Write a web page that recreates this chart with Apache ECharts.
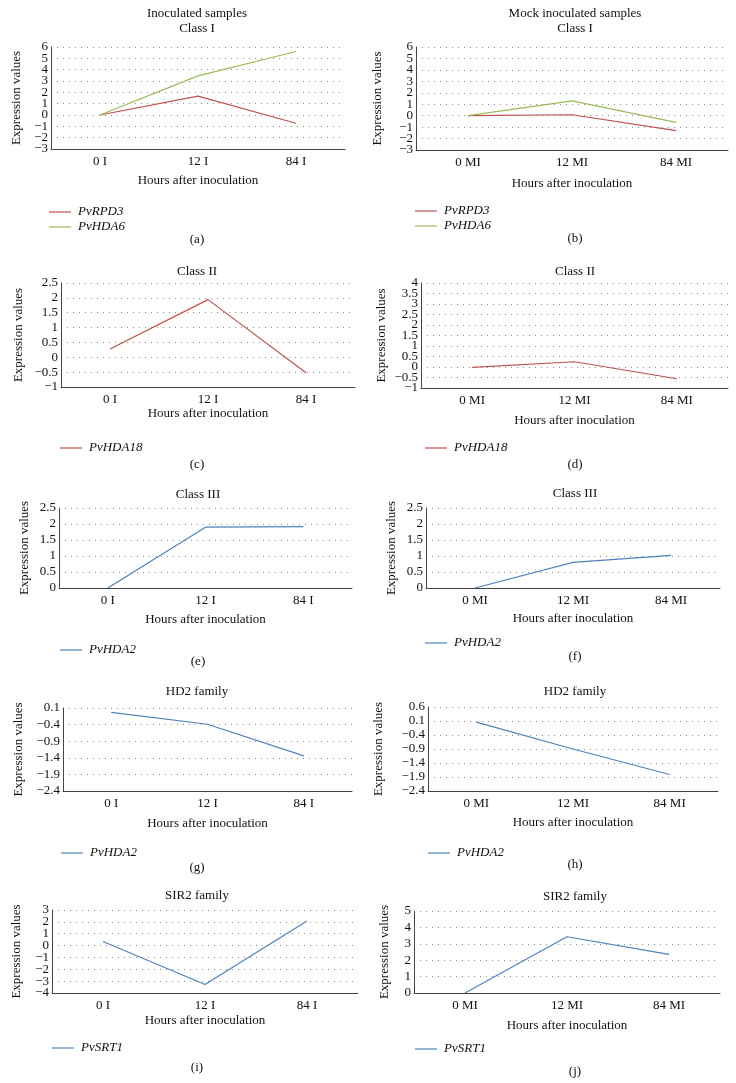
<!DOCTYPE html>
<html>
<head>
<meta charset="utf-8">
<script src="https://cdn.jsdelivr.net/npm/echarts@6/dist/echarts.min.js"></script>
<style>html,body{margin:0;padding:0;background:#fff}#c{width:736px;height:1083px}</style>
</head>
<body>
<div id="c"></div>
<script>
// ---- Data ----
var catsI = ['0 I', '12 I', '84 I'];
var catsMI = ['0 MI', '12 MI', '84 MI'];

var aRPD3 = [0, 1.67, -0.73];
var aHDA6 = [0, 3.45, 5.6];
var bRPD3 = [0, 0.08, -1.3];
var bHDA6 = [0, 1.3, -0.58];
var cHDA18 = [0.28, 1.94, -0.52];
var dHDA18 = [-0.02, 0.25, -0.56];
var eHDA2 = [0, 1.9, 1.92];
var fHDA2 = [0, 0.8, 1.02];
var gHDA2 = [-0.03, -0.39, -1.34];
var hHDA2 = [0.06, -0.9, -1.81];
var iSRT1 = [0.34, -3.28, 2.07];
var jSRT1 = [0, 3.43, 2.36];

// y-axis ranges [min, max, interval]
var yA = [-3, 6, 1], yB = [-3, 6, 1], yC = [-1, 2.5, 0.5], yD = [-1, 4, 0.5];
var yE = [0, 2.5, 0.5], yF = [0, 2.5, 0.5], yG = [-2.4, 0.1, 0.5], yH = [-2.4, 0.6, 0.5];
var yI = [-4, 3, 1], yJ = [0, 5, 1];

var titles = [['Inoculated samples', 'Class I'], ['Mock inoculated samples', 'Class I'],
  ['Class II'], ['Class II'], ['Class III'], ['Class III'], ['HD2 family'], ['HD2 family'],
  ['SIR2 family'], ['SIR2 family']];
var panelLabels = ['(a)', '(b)', '(c)', '(d)', '(e)', '(f)', '(g)', '(h)', '(i)', '(j)'];
var xName = 'Hours after inoculation';
var yName = 'Expression values';

// ---- Styles / layout ----
var RED = '#c0504d', GREEN = '#9bbb59', BLUE = '#4f81bd';
var FONT = '"Liberation Serif","DejaVu Serif",serif';
var FS = 13;

var panels = [
  {cats: catsI, y: yA, series: [['PvRPD3', aRPD3, RED], ['PvHDA6', aHDA6, GREEN]],
   grid: [51, 47, 294, 102], xGap: 25, yGap: 28, titleY: [14, 29], cx: 197, labY: 240, leg: [49, 205]},
  {cats: catsMI, y: yB, series: [['PvRPD3', bRPD3, RED], ['PvHDA6', bHDA6, GREEN]],
   grid: [416, 47, 312, 103], xGap: 27, yGap: 32, titleY: [14, 29], cx: 575, labY: 239, leg: [415, 204]},
  {cats: catsI, y: yC, series: [['PvHDA18', cHDA18, RED]],
   grid: [61, 283, 294, 104], xGap: 19, yGap: 36, titleY: [272], cx: 197, labY: 465, leg: [60, 441]},
  {cats: catsMI, y: yD, series: [['PvHDA18', dHDA18, RED]],
   grid: [421, 283, 307, 105], xGap: 26, yGap: 33, titleY: [272], cx: 575, labY: 465, leg: [425, 441]},
  {cats: catsI, y: yE, series: [['PvHDA2', eHDA2, BLUE]],
   grid: [59, 508, 293, 80], xGap: 25, yGap: 28, titleY: [495], cx: 198, labY: 662, leg: [60, 643]},
  {cats: catsMI, y: yF, series: [['PvHDA2', fHDA2, BLUE]],
   grid: [426, 508, 294, 80], xGap: 24, yGap: 28, titleY: [494], cx: 575, labY: 657, leg: [425, 636]},
  {cats: catsI, y: yG, series: [['PvHDA2', gHDA2, BLUE]],
   grid: [63, 708, 289, 83], xGap: 26, yGap: 38, titleY: [692], cx: 197, labY: 868, leg: [61, 846]},
  {cats: catsMI, y: yH, series: [['PvHDA2', hHDA2, BLUE]],
   grid: [428, 707, 290, 84], xGap: 25, yGap: 43, titleY: [692], cx: 575, labY: 865, leg: [428, 846]},
  {cats: catsI, y: yI, series: [['PvSRT1', iSRT1, BLUE]],
   grid: [52, 910, 306, 83], xGap: 21, yGap: 29, titleY: [896], cx: 197, labY: 1068, leg: [52, 1041]},
  {cats: catsMI, y: yJ, series: [['PvSRT1', jSRT1, BLUE]],
   grid: [414, 911, 306, 82], xGap: 26, yGap: 23, titleY: [897], cx: 575, labY: 1072, leg: [415, 1042]}
];

var option = {
  animation: false,
  backgroundColor: '#fff',
  textStyle: {fontFamily: FONT},
  grid: [], xAxis: [], yAxis: [], series: [], legend: [], graphic: []
};

function fmt(v) {
  var s = String(Math.round(v * 100) / 100);
  return s.replace('-', '\u2212');
}

panels.forEach(function (p, k) {
  // tick values split into two alternating sets so ECharts does not hide crowded min/max labels
  var even = [], odd = [];
  var n = Math.round((p.y[1] - p.y[0]) / p.y[2]);
  for (var t = 0; t <= n; t++) {
    var v = Math.round((p.y[0] + t * p.y[2]) * 100) / 100;
    (t % 2 === 0 ? even : odd).push(v);
  }
  option.grid.push({left: p.grid[0], top: p.grid[1], width: p.grid[2], height: p.grid[3], containLabel: false});
  option.xAxis.push({
    type: 'category', gridIndex: k, data: p.cats, boundaryGap: true,
    name: xName, nameLocation: 'middle', nameGap: p.xGap,
    nameTextStyle: {fontFamily: FONT, fontSize: FS, color: '#111'},
    axisLine: {onZero: false, lineStyle: {color: '#444', width: 1}},
    axisTick: {show: false},
    axisLabel: {fontFamily: FONT, fontSize: FS, color: '#111', margin: 6, hideOverlap: false},
    splitLine: {show: false}
  });
  var mainIdx = option.yAxis.length;
  option.yAxis.push({
    type: 'value', gridIndex: k, position: 'left', min: p.y[0], max: p.y[1], interval: p.y[2],
    name: yName, nameLocation: 'middle', nameGap: p.yGap, nameRotate: 90,
    nameTextStyle: {fontFamily: FONT, fontSize: FS, color: '#111'},
    axisLine: {show: true, onZero: false, lineStyle: {color: '#444', width: 1}},
    axisTick: {show: false},
    axisLabel: {fontFamily: FONT, fontSize: FS, color: '#111', margin: 3,
      showMinLabel: true, showMaxLabel: true, customValues: even, formatter: fmt},
    splitLine: {show: true, lineStyle: {color: '#8a8a8a', width: 1, type: [1, 5]}}
  });
  option.yAxis.push({
    type: 'value', gridIndex: k, position: 'left', offset: 0, min: p.y[0], max: p.y[1], interval: p.y[2],
    axisLine: {show: false, onZero: false},
    axisTick: {show: false},
    axisLabel: {fontFamily: FONT, fontSize: FS, color: '#111', margin: 3,
      showMinLabel: true, showMaxLabel: true, customValues: odd, formatter: fmt},
    splitLine: {show: false}
  });
  var names = [];
  p.series.forEach(function (s) {
    names.push(s[0]);
    option.series.push({
      type: 'line', name: s[0], xAxisIndex: k, yAxisIndex: mainIdx, data: s[1],
      showSymbol: false, symbol: 'none', color: s[2],
      lineStyle: {color: s[2], width: 1.2}
    });
  });
  option.legend.push({
    orient: 'vertical', left: p.leg[0], top: p.leg[1], data: names, padding: 0,
    icon: 'rect', itemWidth: 22, itemHeight: 1.2, itemGap: 1,
    selectedMode: false,
    textStyle: {fontFamily: FONT, fontSize: FS, fontStyle: 'italic', color: '#111', padding: [0, 0, 0, 2], lineHeight: 14}
  });
  p.titleY.forEach(function (ty, j) {
    option.graphic.push({type: 'text', x: p.cx, y: ty,
      style: {text: titles[k][j], font: FS + 'px ' + FONT, fill: '#111', textAlign: 'center', textVerticalAlign: 'middle'}});
  });
  option.graphic.push({type: 'text', x: p.cx, y: p.labY,
    style: {text: panelLabels[k], font: FS + 'px ' + FONT, fill: '#111', textAlign: 'center', textVerticalAlign: 'middle'}});
});

var chart = echarts.init(document.getElementById('c'), null, {renderer: 'canvas'});
chart.setOption(option);
</script>
</body>
</html>
